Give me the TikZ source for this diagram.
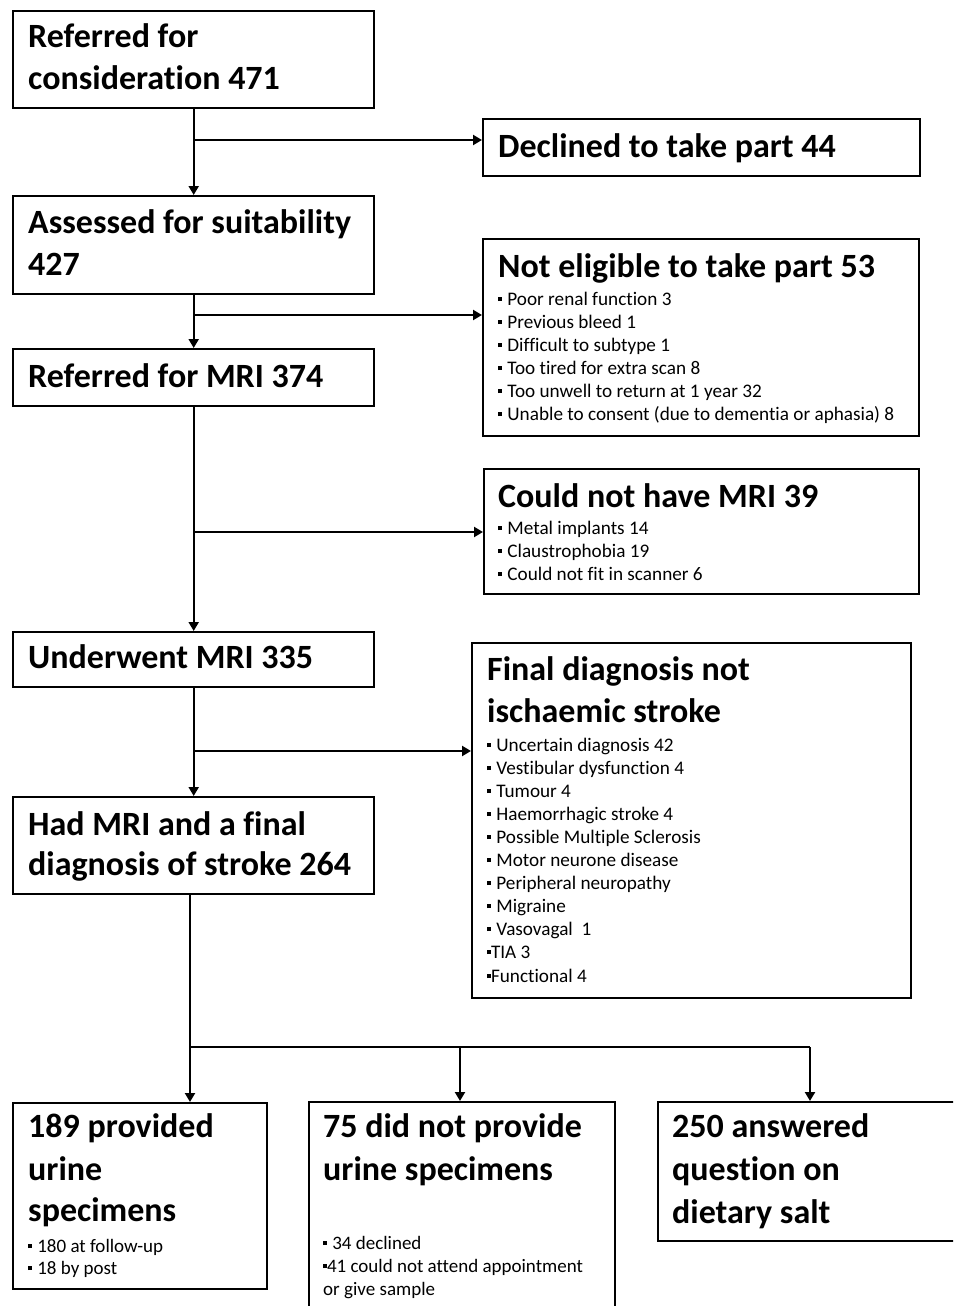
\documentclass[tikz,border=0pt]{standalone}
\usepackage{fontspec}
\setmainfont{Carlito}[Ligatures=NoCommon]
\usetikzlibrary{arrows.meta}
\newcommand{\bul}{\rule[0.2em]{0.2em}{0.2em}\hspace{0.28em}}
\newcommand{\bulx}{\rule[0.2em]{0.2em}{0.2em}}
\newcommand{\tline}[5]{\node[#4] (#1) at (#2,#3) {#5};}
\begin{document}
\begin{tikzpicture}[x=1pt,y=-1pt,
  box/.style={draw, line width=2.4pt, anchor=north west, inner sep=0pt},
  ttl/.style={anchor=base west, inner sep=0pt, font=\bfseries\fontsize{34}{41}\selectfont},
  bl/.style={anchor=base west, inner sep=0pt, font=\fontsize{19.2}{23}\selectfont},
  bls/.style={anchor=base west, inner sep=0pt, font=\fontsize{19}{23}\selectfont},
  con/.style={line width=2.2pt},
  arr/.style={con, -{Triangle[length=9pt,width=10pt]}}]
\useasboundingbox (0,0) rectangle (953,1306);
\clip (0,0) rectangle (953,1306);
\fill[white] (0,0) rectangle (953,1306);
% left column boxes
\node[box, minimum width=361pt, minimum height=97pt] (b1) at (12,10) {};
\node[box, minimum width=361pt, minimum height=98pt] (b2) at (12,195) {};
\node[box, minimum width=361pt, minimum height=57pt] (b3) at (12,348) {};
\node[box, minimum width=361pt, minimum height=55pt] (b4) at (12,631) {};
\node[box, minimum width=361pt, minimum height=97pt] (b5) at (12,796) {};
% right column boxes
\node[box, minimum width=437pt, minimum height=57pt] (d1) at (482,118) {};
\node[box, minimum width=436pt, minimum height=197pt] (d2) at (482,238) {};
\node[box, minimum width=435pt, minimum height=125pt] (d3) at (483,468) {};
\node[box, minimum width=439pt, minimum height=355pt] (d4) at (471,642) {};
% bottom boxes
\node[box, minimum width=254pt, minimum height=186pt] (o1) at (12,1102) {};
\node[box, minimum width=306pt, minimum height=230pt] (o2) at (308,1101) {};
\node[box, minimum width=330pt, minimum height=139pt] (o3) at (657,1101) {};
% texts
\tline{t1a}{28}{48}{ttl}{Referred for}
\tline{t1b}{28}{89}{ttl}{consideration 471}
\tline{t2a}{28}{233}{ttl}{Assessed for suitability}
\tline{t2b}{28}{275}{ttl}{427}
\tline{t3}{28}{387}{ttl}{Referred for MRI 374}
\tline{t4}{28}{668}{ttl}{Underwent MRI 335}
\tline{t5a}{28}{835}{ttl}{Had MRI and a final}
\tline{t5b}{28}{875}{ttl}{diagnosis of stroke 264}
\tline{s1}{498}{157}{ttl}{Declined to take part 44}
\tline{s2}{498}{277}{ttl}{Not eligible to take part 53}
\tline{s2a}{498}{305}{bl}{\bul Poor renal function 3}
\tline{s2b}{498}{328}{bl}{\bul Previous bleed 1}
\tline{s2c}{498}{351}{bl}{\bul Difficult to subtype 1}
\tline{s2d}{498}{374}{bl}{\bul Too tired for extra scan 8}
\tline{s2e}{498}{397}{bl}{\bul Too unwell to return at 1 year 32}
\tline{s2f}{498}{420}{bl}{\bul Unable to consent (due to dementia or aphasia) 8}
\tline{s3}{498}{507}{ttl}{Could not have MRI 39}
\tline{s3a}{498}{534}{bl}{\bul Metal implants 14}
\tline{s3b}{498}{557}{bl}{\bul Claustrophobia 19}
\tline{s3c}{498}{580}{bl}{\bul Could not fit in scanner 6}
\tline{s4a}{487}{680}{ttl}{Final diagnosis not}
\tline{s4b}{487}{722}{ttl}{ischaemic stroke}
\tline{s4c}{487}{751}{bl}{\bul Uncertain diagnosis 42}
\tline{s4d}{487}{774}{bl}{\bul Vestibular dysfunction 4}
\tline{s4e}{487}{797}{bl}{\bul Tumour 4}
\tline{s4f}{487}{820}{bl}{\bul Haemorrhagic stroke 4}
\tline{s4g}{487}{843}{bl}{\bul Possible Multiple Sclerosis}
\tline{s4h}{487}{866}{bl}{\bul Motor neurone disease}
\tline{s4i}{487}{889}{bl}{\bul Peripheral neuropathy}
\tline{s4j}{487}{912}{bl}{\bul Migraine}
\tline{s4k}{487}{935}{bl}{\bul Vasovagal\ \ 1}
\tline{s4l}{487}{958}{bl}{\bulx TIA 3}
\tline{s4m}{487}{982}{bl}{\bulx Functional 4}
\tline{u1a}{28}{1137}{ttl}{189 provided}
\tline{u1b}{28}{1180}{ttl}{urine}
\tline{u1c}{28}{1221}{ttl}{specimens}
\tline{u1d}{28}{1252}{bls}{\bul 180 at follow-up}
\tline{u1e}{28}{1274}{bls}{\bul 18 by post}
\tline{u2a}{323}{1137}{ttl}{75 did not provide}
\tline{u2b}{323}{1180}{ttl}{urine specimens}
\tline{u2c}{323}{1249}{bls}{\bul 34 declined}
\tline{u2d}{323}{1272}{bls}{\bulx 41 could not attend appointment}
\tline{u2e}{323}{1295}{bls}{or give sample}
\tline{u3a}{672}{1137}{ttl}{250 answered}
\tline{u3b}{672}{1180}{ttl}{question on}
\tline{u3c}{672}{1223}{ttl}{dietary salt}
% junction coordinates
\coordinate (j1) at (193,140);
\coordinate (j2) at (193,315);
\coordinate (j3) at (193,532);
\coordinate (j4) at (193,751);
\coordinate (k0) at (190,893);
\coordinate (kL) at (190,1047);
\coordinate (kM) at (460,1047);
\coordinate (kR) at (810,1047);
% connectors
\draw[arr] (b1.south) -- (b2.north);
\draw[arr] (b2.south) -- (b3.north);
\draw[arr] (b3.south) -- (b4.north);
\draw[arr] (b4.south) -- (b5.north);
\draw[arr] (j1) -- (j1 -| d1.west);
\draw[arr] (j2) -- (j2 -| d2.west);
\draw[arr] (j3) -- (j3 -| d3.west);
\draw[arr] (j4) -- (j4 -| d4.west);
\draw[con] (k0) -- (kL) -- (kR);
\draw[arr] (kL) -- (kL |- o1.north);
\draw[arr] (kM) -- (kM |- o2.north);
\draw[arr] (kR) -- (kR |- o3.north);
\end{tikzpicture}
\end{document}
